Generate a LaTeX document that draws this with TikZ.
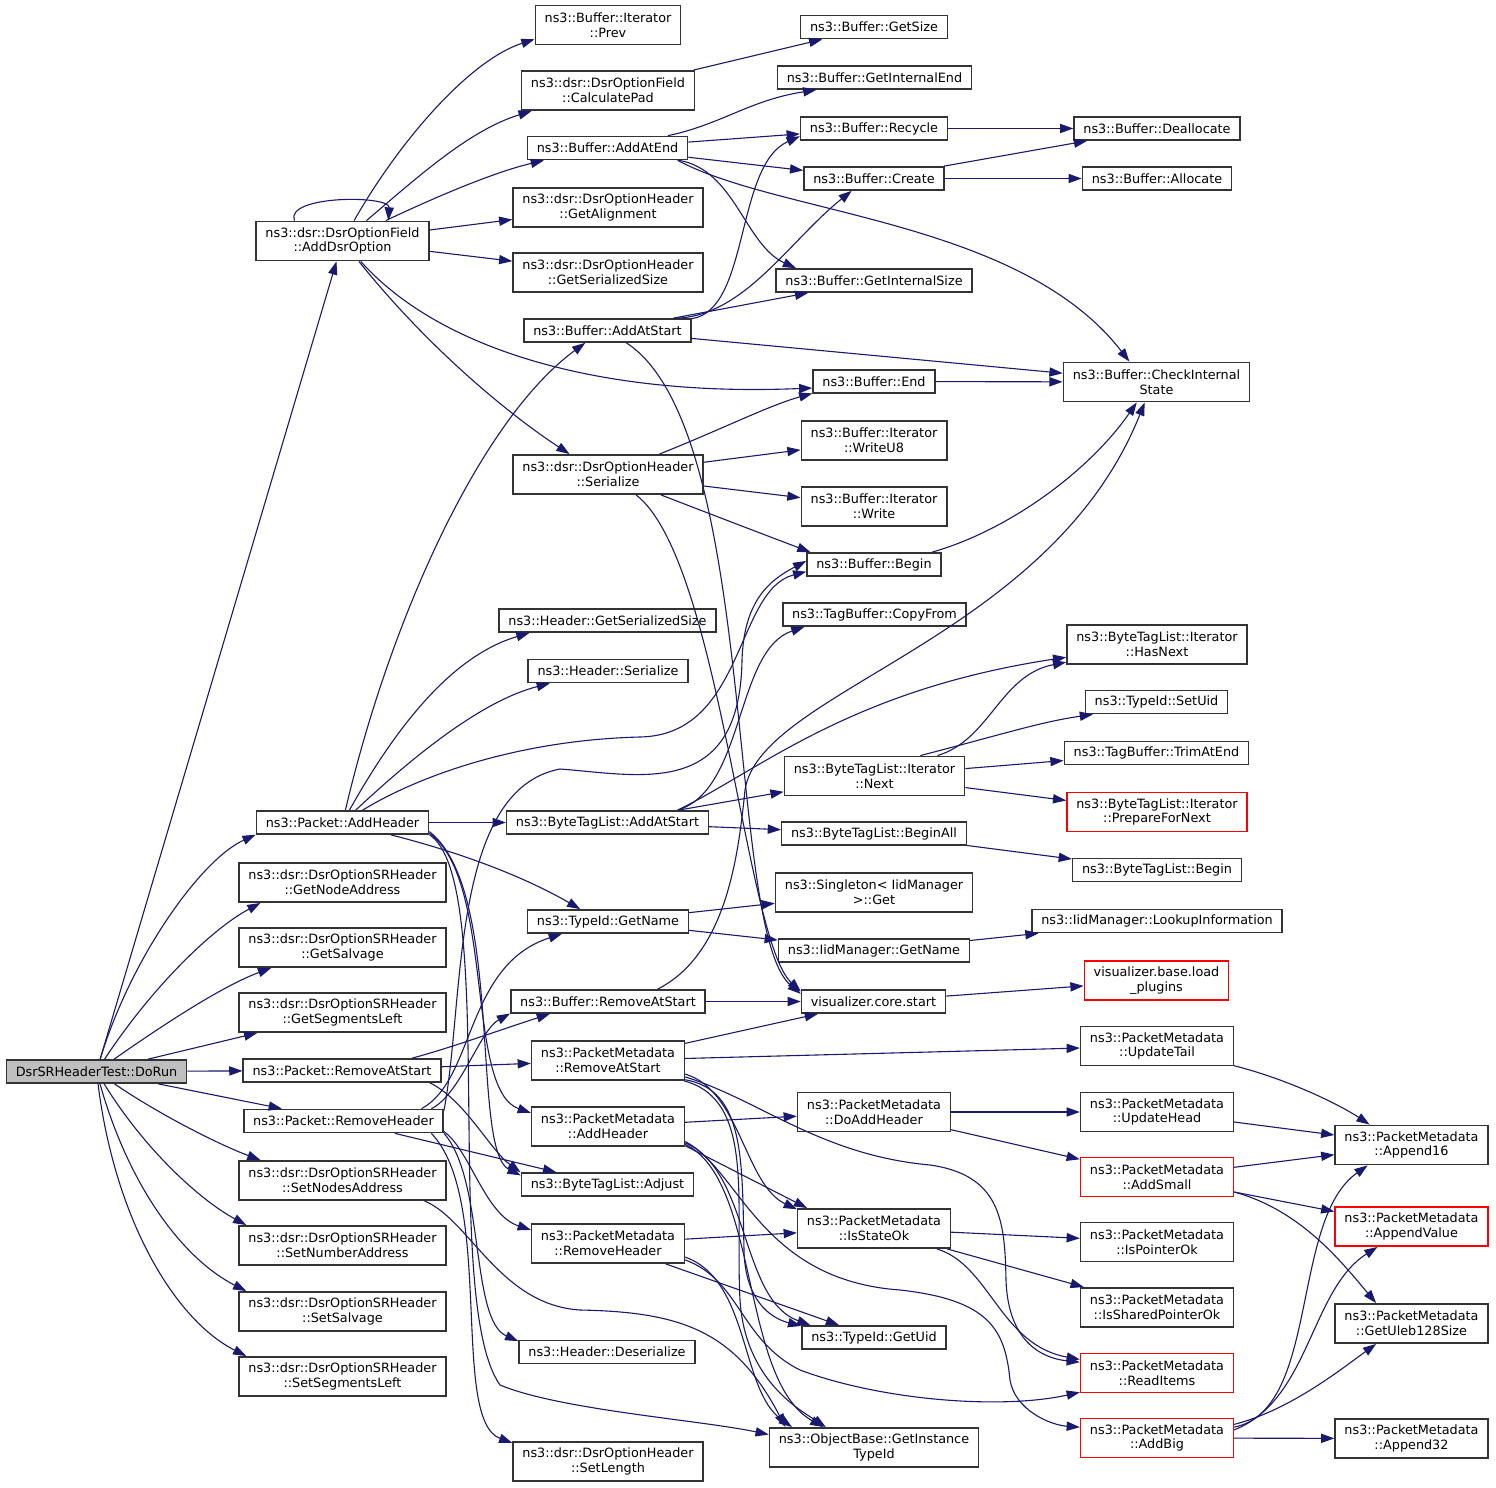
\documentclass[tikz,border=0pt]{standalone}
\usepackage{fontspec}
\setmainfont{DejaVu Sans}
\usetikzlibrary{calc,shapes,arrows,arrows.meta}
\definecolor{callblue}{HTML}{191970}
\tikzset{
  fn/.style={draw=black!80, line width=0.75pt, fill=white, align=center, inner xsep=4.7pt, inner ysep=1pt, minimum height=11.6pt, font=\fontsize{6.4}{7.4}\selectfont},
  fnn/.style={fn, minimum height=19.7pt},
  fnroot/.style={fn, fill=black!25},
  missing/.style={draw=red},
  call/.style={-{Triangle[length=6.6pt,width=4.6pt]}, draw=callblue, line width=0.55pt},
}

\begin{document}
\begin{tikzpicture}[x=0.5pt,y=-0.5pt]
        \fill[white] (0,0) rectangle (1496,1488);
        \useasboundingbox (0,0) rectangle (1496,1488);

        \node[fnroot] (doRun) at (96.5,1071.5) {DsrSRHeaderTest::DoRun};

        \node[fnn] (addDsrOption) at (342.5,241) {ns3::dsr::DsrOptionField\\::AddDsrOption};
        \node[fn] (pktAddHeader) at (342.5,822.5) {ns3::Packet::AddHeader};
        \node[fnn] (getNodeAddress) at (342.5,882.5) {ns3::dsr::DsrOptionSRHeader\\::GetNodeAddress};
        \node[fnn] (getSalvage) at (342.5,947.5) {ns3::dsr::DsrOptionSRHeader\\::GetSalvage};
        \node[fnn] (getSegmentsLeft) at (342.5,1012.5) {ns3::dsr::DsrOptionSRHeader\\::GetSegmentsLeft};
        \node[fn] (pktRemoveAtStart) at (342,1070.5) {ns3::Packet::RemoveAtStart};
        \node[fn] (pktRemoveHeader) at (343.5,1121) {ns3::Packet::RemoveHeader};
        \node[fnn] (setNodesAddress) at (342.5,1180.5) {ns3::dsr::DsrOptionSRHeader\\::SetNodesAddress};
        \node[fnn] (setNumberAddress) at (342.5,1245.5) {ns3::dsr::DsrOptionSRHeader\\::SetNumberAddress};
        \node[fnn] (setSalvage) at (342.5,1311.5) {ns3::dsr::DsrOptionSRHeader\\::SetSalvage};
        \node[fnn] (setSegmentsLeft) at (342.5,1376.5) {ns3::dsr::DsrOptionSRHeader\\::SetSegmentsLeft};

        \node[fnn] (iterPrev) at (608,25) {ns3::Buffer::Iterator\\::Prev};
        \node[fnn] (calcPad) at (608,90.5) {ns3::dsr::DsrOptionField\\::CalculatePad};
        \node[fn] (addAtEnd) at (607.5,148) {ns3::Buffer::AddAtEnd};
        \node[fnn] (getAlignment) at (608,207.5) {ns3::dsr::DsrOptionHeader\\::GetAlignment};
        \node[fnn] (optGetSerSize) at (608,272.5) {ns3::dsr::DsrOptionHeader\\::GetSerializedSize};
        \node[fn] (addAtStart) at (607.5,330.5) {ns3::Buffer::AddAtStart};
        \node[fnn] (optSerialize) at (608,474.5) {ns3::dsr::DsrOptionHeader\\::Serialize};
        \node[fn] (hdrGetSerSize) at (607.5,620.5) {ns3::Header::GetSerializedSize};
        \node[fn] (hdrSerialize) at (608,671) {ns3::Header::Serialize};
        \node[fn] (btlAddAtStart) at (607.5,822.5) {ns3::ByteTagList::AddAtStart};
        \node[fn] (typeGetName) at (608,921.5) {ns3::TypeId::GetName};
        \node[fn] (bufRemoveAtStart) at (608,1001.5) {ns3::Buffer::RemoveAtStart};
        \node[fnn] (pmRemoveAtStart) at (608,1060.5) {ns3::PacketMetadata\\::RemoveAtStart};
        \node[fnn] (pmAddHeader) at (608,1126.5) {ns3::PacketMetadata\\::AddHeader};
        \node[fn] (btlAdjust) at (607.5,1184.5) {ns3::ByteTagList::Adjust};
        \node[fnn] (pmRemoveHeader) at (608,1243.5) {ns3::PacketMetadata\\::RemoveHeader};
        \node[fn] (hdrDeserialize) at (607,1352) {ns3::Header::Deserialize};
        \node[fnn] (setLength) at (608,1461.5) {ns3::dsr::DsrOptionHeader\\::SetLength};

        \node[fn] (getSize) at (874,27) {ns3::Buffer::GetSize};
        \node[fn] (getIntEnd) at (874.5,77.5) {ns3::Buffer::GetInternalEnd};
        \node[fn] (recycle) at (874,128.5) {ns3::Buffer::Recycle};
        \node[fn] (create) at (874,178.5) {ns3::Buffer::Create};
        \node[fn] (getIntSize) at (874,280.5) {ns3::Buffer::GetInternalSize};
        \node[fn] (bufEnd) at (874,381.5) {ns3::Buffer::End};
        \node[fnn] (writeU8) at (874,440.5) {ns3::Buffer::Iterator\\::WriteU8};
        \node[fnn] (write) at (874,506.5) {ns3::Buffer::Iterator\\::Write};
        \node[fn] (bufBegin) at (874,564.5) {ns3::Buffer::Begin};
        \node[fn] (copyFrom) at (874.5,614.5) {ns3::TagBuffer::CopyFrom};
        \node[fnn] (iterNext) at (874.5,776) {ns3::ByteTagList::Iterator\\::Next};
        \node[fn] (beginAll) at (874,833.5) {ns3::ByteTagList::BeginAll};
        \node[fnn] (singletonGet) at (874,892.5) {ns3::Singleton< IidManager\\>::Get};
        \node[fn] (iidGetName) at (874,950.5) {ns3::IidManager::GetName};
        \node[fn] (coreStart) at (873.5,1001.5) {visualizer.core.start};
        \node[fnn] (doAddHeader) at (874,1112) {ns3::PacketMetadata\\::DoAddHeader};
        \node[fnn] (isStateOk) at (874,1228.5) {ns3::PacketMetadata\\::IsStateOk};
        \node[fn] (getUid) at (874,1337.5) {ns3::TypeId::GetUid};
        \node[fnn] (getInstTypeId) at (874,1447.5) {ns3::ObjectBase::GetInstance\\TypeId};

        \node[fn] (deallocate) at (1157,128.5) {ns3::Buffer::Deallocate};
        \node[fn] (allocate) at (1157,178.5) {ns3::Buffer::Allocate};
        \node[fnn] (checkState) at (1156.5,382) {ns3::Buffer::CheckInternal\\State};
        \node[fnn] (hasNext) at (1157,644.5) {ns3::ByteTagList::Iterator\\::HasNext};
        \node[fn] (setUid) at (1156.5,702) {ns3::TypeId::SetUid};
        \node[fn] (trimAtEnd) at (1156.5,753) {ns3::TagBuffer::TrimAtEnd};
        \node[fnn,missing] (prepNext) at (1157,812) {ns3::ByteTagList::Iterator\\::PrepareForNext};
        \node[fn] (btlBegin) at (1157,870) {ns3::ByteTagList::Begin};
        \node[fn] (lookupInfo) at (1157,921) {ns3::IidManager::LookupInformation};
        \node[fnn,missing] (loadPlugins) at (1156.5,980.5) {visualizer.base.load\\\_plugins};
        \node[fnn] (updateTail) at (1157,1046) {ns3::PacketMetadata\\::UpdateTail};
        \node[fnn] (updateHead) at (1157,1112) {ns3::PacketMetadata\\::UpdateHead};
        \node[fnn,missing] (addSmall) at (1157,1177) {ns3::PacketMetadata\\::AddSmall};
        \node[fnn] (isPointerOk) at (1157,1242) {ns3::PacketMetadata\\::IsPointerOk};
        \node[fnn] (isSharedPtrOk) at (1157,1307.5) {ns3::PacketMetadata\\::IsSharedPointerOk};
        \node[fnn,missing] (readItems) at (1157,1373) {ns3::PacketMetadata\\::ReadItems};
        \node[fnn,missing] (addBig) at (1157,1438) {ns3::PacketMetadata\\::AddBig};

        \node[fnn] (append16) at (1411.5,1145) {ns3::PacketMetadata\\::Append16};
        \node[fnn,missing] (appendValue) at (1411.5,1226.5) {ns3::PacketMetadata\\::AppendValue};
        \node[fnn] (getUleb) at (1411.5,1323.5) {ns3::PacketMetadata\\::GetUleb128Size};
        \node[fnn] (append32) at (1411.5,1438.5) {ns3::PacketMetadata\\::Append32};

        \draw[call] (doRun) -- (addDsrOption);
        \draw[call] (doRun) .. controls (130,960) and (200,860) .. (pktAddHeader.188);
        \draw[call] (doRun) .. controls (150,990) and (210,930) .. (getNodeAddress.194);
        \draw[call] (doRun) .. controls (170,1020) and (225,985) .. (getSalvage.196);
        \draw[call] (doRun) -- (getSegmentsLeft);
        \draw[call] (doRun) -- (pktRemoveAtStart);
        \draw[call] (doRun) -- (pktRemoveHeader);
        \draw[call] (doRun) .. controls (160,1115) and (220,1145) .. (setNodesAddress.166);
        \draw[call] (doRun) .. controls (145,1150) and (200,1200) .. (setNumberAddress.168);
        \draw[call] (doRun) .. controls (130,1190) and (185,1260) .. (setSalvage.168);
        \draw[call] (doRun) .. controls (115,1220) and (175,1320) .. (setSegmentsLeft.168);

        \draw[call] (addDsrOption.157) .. controls (285,195) and (390,195) .. (addDsrOption.24);
        \draw[call] (addDsrOption) .. controls (400,140) and (470,60) .. (iterPrev.191);
        \draw[call] (addDsrOption) .. controls (420,175) and (470,130) .. (calcPad.195);
        \draw[call] (addDsrOption) .. controls (440,195) and (495,172) .. (addAtEnd.191);
        \draw[call] (addDsrOption) -- (getAlignment);
        \draw[call] (addDsrOption) -- (optGetSerSize);
        \draw[call] (addDsrOption) .. controls (440,350) and (600,397) .. (bufEnd.186);
        \draw[call] (addDsrOption) .. controls (430,350) and (510,415) .. (optSerialize.152);

        \draw[call] (calcPad) -- (getSize);
        \draw[call] (addAtEnd) .. controls (720,125) and (750,100) .. (getIntEnd.192);
        \draw[call] (addAtEnd) -- (recycle);
        \draw[call] (addAtEnd) -- (create);
        \draw[call] (addAtEnd) .. controls (735,170) and (745,245) .. (getIntSize.171);
        \draw[call] (addAtEnd.-10) .. controls (780,215) and (1020,220) .. (checkState.143);
        \draw[call] (recycle) -- (deallocate);
        \draw[call] (create) -- (deallocate);
        \draw[call] (create) -- (allocate);

        \draw[call] (addAtStart.8) .. controls (750,310) and (735,165) .. (recycle.186);
        \draw[call] (addAtStart.10) .. controls (745,315) and (790,240) .. (create.209);
        \draw[call] (addAtStart) -- (getIntSize);
        \draw[call] (addAtStart) -- (checkState);
        \draw[call] (addAtStart) .. controls (760,430) and (725,930) .. (coreStart.174);
        \draw[call] (bufEnd) -- (checkState);

        \draw[call] (optSerialize) .. controls (720,430) and (770,405) .. (bufEnd.191);
        \draw[call] (optSerialize) -- (writeU8);
        \draw[call] (optSerialize) -- (write);
        \draw[call] (optSerialize) .. controls (700,510) and (765,535) .. (bufBegin.169);
        \draw[call] (optSerialize.-36) .. controls (720,560) and (745,940) .. (coreStart.172);
        \draw[call] (bufBegin.12) .. controls (1010,530) and (1090,470) .. (checkState.226);

        \draw[call] (pktAddHeader) .. controls (390,620) and (480,420) .. (addAtStart.209);
        \draw[call] (pktAddHeader) .. controls (400,720) and (455,655) .. (hdrGetSerSize.189);
        \draw[call] (pktAddHeader) .. controls (420,750) and (485,700) .. (hdrSerialize.192);
        \draw[call] (pktAddHeader) .. controls (420,775) and (520,740) .. (640,737) .. controls (745,735) and (735,590) .. (bufBegin.186);
        \draw[call] (pktAddHeader) -- (btlAddAtStart);
        \draw[call] (pktAddHeader) .. controls (470,855) and (530,880) .. (typeGetName.156);
        \draw[call] (pktAddHeader.-7) .. controls (495,880) and (465,1090) .. (pmAddHeader.170);
        \draw[call] (pktAddHeader.-6) .. controls (505,890) and (470,1150) .. (btlAdjust.174);
        \draw[call] (pktAddHeader.-8) .. controls (500,880) and (440,1300) .. (500,1385) .. controls (560,1410) and (700,1420) .. (getInstTypeId.173);

        \draw[call] (btlAddAtStart.10) .. controls (745,790) and (735,650) .. (copyFrom.190);
        \draw[call] (btlAddAtStart.10) .. controls (760,770) and (850,690) .. (hasNext.188);
        \draw[call] (btlAddAtStart) -- (iterNext);
        \draw[call] (btlAddAtStart) -- (beginAll);
        \draw[call] (iterNext.18) .. controls (990,740) and (1000,675) .. (hasNext.191);
        \draw[call] (iterNext.24) .. controls (1000,735) and (1040,722) .. (setUid.191);
        \draw[call] (iterNext) -- (trimAtEnd);
        \draw[call] (iterNext) -- (prepNext);
        \draw[call] (beginAll) -- (btlBegin);
        \draw[call] (typeGetName) -- (singletonGet);
        \draw[call] (typeGetName) -- (iidGetName);
        \draw[call] (iidGetName) -- (lookupInfo);

        \draw[call] (bufRemoveAtStart) -- (coreStart);
        \draw[call] (bufRemoveAtStart.14) .. controls (725,955) and (738,860) .. (745,790) .. controls (760,690) and (1050,640) .. (checkState.240);
        \draw[call] (coreStart) -- (loadPlugins);

        \draw[call] (pktRemoveAtStart.10) .. controls (450,1048) and (500,1030) .. (bufRemoveAtStart.192);
        \draw[call] (pktRemoveAtStart) -- (pmRemoveAtStart);
        \draw[call] (pktRemoveAtStart.-8) .. controls (465,1100) and (490,1150) .. (btlAdjust.172);

        \draw[call] (pktRemoveHeader.8) .. controls (460,1095) and (480,1030) .. (bufRemoveAtStart.187);
        \draw[call] (pktRemoveHeader.9) .. controls (475,1080) and (465,965) .. (typeGetName.195);
        \draw[call] (pktRemoveHeader) -- (btlAdjust);
        \draw[call] (pktRemoveHeader.-6) .. controls (470,1150) and (485,1215) .. (pmRemoveHeader.170);
        \draw[call] (pktRemoveHeader.-7) .. controls (485,1180) and (470,1320) .. (hdrDeserialize.173);
        \draw[call] (pktRemoveHeader.-8) .. controls (495,1200) and (450,1420) .. (setLength.169);
        \draw[call] (pktRemoveHeader.6) .. controls (465,1000) and (450,790) .. (560,769) .. controls (640,775) and (740,800) .. (742,660) .. controls (744,600) and (770,580) .. (bufBegin.177);

        \draw[call] (setNodesAddress.-14) .. controls (470,1220) and (500,1305) .. (580,1310) .. controls (680,1312) and (735,1330) .. (getInstTypeId.167);

        \draw[call] (pmRemoveAtStart) -- (coreStart);
        \draw[call] (pmRemoveAtStart) -- (updateTail);
        \draw[call] (pmRemoveAtStart.-10) .. controls (740,1090) and (745,1185) .. (isStateOk.166);
        \draw[call] (pmRemoveAtStart.-12) .. controls (760,1100) and (820,1155) .. (930,1165) .. controls (1000,1175) and (1005,1220) .. (1006,1280) .. controls (1008,1340) and (1040,1358) .. (readItems.172);
        \draw[call] (pmRemoveAtStart.-14) .. controls (745,1090) and (742,1160) .. (744,1250) .. controls (745,1300) and (770,1318) .. (getUid.171);
        \draw[call] (pmRemoveAtStart.-15) .. controls (755,1100) and (735,1200) .. (740,1300) .. controls (745,1380) and (800,1410) .. (getInstTypeId.157);

        \draw[call] (pmAddHeader) -- (doAddHeader);
        \draw[call] (pmAddHeader.-14) -- (isStateOk.163);
        \draw[call] (pmAddHeader.-12) .. controls (750,1170) and (740,1300) .. (getUid.169);
        \draw[call] (pmAddHeader.-13) .. controls (760,1180) and (740,1380) .. (getInstTypeId.158);
        \draw[call] (pmAddHeader.-11) .. controls (740,1170) and (760,1280) .. (900,1290) .. controls (990,1300) and (1005,1330) .. (1010,1380) .. controls (1015,1410) and (1050,1425) .. (addBig.172);

        \draw[call] (pmRemoveHeader) -- (isStateOk);
        \draw[call] (pmRemoveHeader) -- (getUid);
        \draw[call] (pmRemoveHeader.-10) .. controls (750,1280) and (740,1390) .. (getInstTypeId.166);
        \draw[call] (pmRemoveHeader.-12) .. controls (740,1280) and (740,1340) .. (800,1370) .. controls (880,1400) and (1000,1410) .. (readItems.194);

        \draw[call] (doAddHeader) -- (updateHead);
        \draw[call] (doAddHeader) -- (addSmall);
        \draw[call] (updateTail) .. controls (1290,1080) and (1340,1105) .. (append16.154);
        \draw[call] (updateHead) -- (append16);
        \draw[call] (addSmall) -- (append16);
        \draw[call] (addSmall) -- (appendValue);
        \draw[call] (addSmall.-11) .. controls (1300,1210) and (1340,1260) .. (getUleb.150);
        \draw[call] (isStateOk) -- (isPointerOk);
        \draw[call] (isStateOk) -- (isSharedPtrOk);
        \draw[call] (isStateOk.-18) .. controls (990,1265) and (1000,1345) .. (readItems.170);
        \draw[call] (addBig.8) .. controls (1320,1410) and (1290,1220) .. (append16.205);
        \draw[call] (addBig.6) .. controls (1310,1400) and (1310,1290) .. (appendValue.211);
        \draw[call] (addBig.10) .. controls (1290,1410) and (1340,1370) .. (getUleb.210);
        \draw[call] (addBig) -- (append32);
\end{tikzpicture}
\end{document}
